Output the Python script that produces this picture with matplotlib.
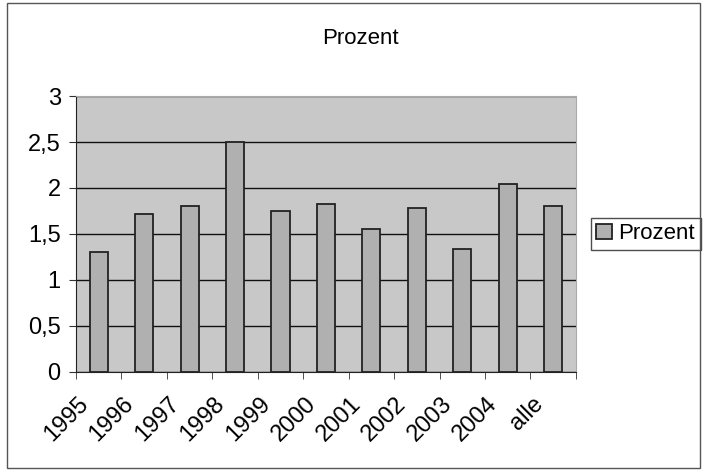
import numpy as np
import matplotlib.pyplot as plt
from matplotlib.patches import Rectangle

plt.rcParams['font.family'] = ['Liberation Sans', 'DejaVu Sans']

jahre = ['1995', '1996', '1997', '1998', '1999', '2000', '2001', '2002', '2003', '2004', 'alle']
prozent = [1.30, 1.72, 1.80, 2.50, 1.75, 1.83, 1.55, 1.78, 1.34, 2.04, 1.80]

fig = plt.figure(figsize=(7.07, 4.72), dpi=100)
ax = fig.add_axes([0.1075, 0.2119, 0.707, 0.5847])

x = np.arange(len(jahre))
ax.set_facecolor('#c8c8c8')
ax.bar(x, prozent, width=0.4, color='#b0b0b0', edgecolor='#222222', linewidth=1.3,
       label='Prozent', zorder=3)

ax.set_xlim(-0.5, len(jahre) - 0.5)
ax.set_ylim(0, 3)
ax.set_yticks(np.arange(0, 3.01, 0.5))
ax.set_yticklabels(['0', '0,5', '1', '1,5', '2', '2,5', '3'], fontsize=17)
ax.yaxis.grid(True, color='#111111', linewidth=1)
ax.set_axisbelow(True)

# Beschriftung sitzt links von der Kategoriemitte (wie in Excel)
ax.set_xticks(x - 0.47)
ax.set_xticklabels(jahre, rotation=45, ha='right', rotation_mode='anchor', fontsize=17)
ax.tick_params(axis='x', which='major', length=0, pad=15)
ax.set_xticks(np.arange(-0.5, len(jahre), 1), minor=True)
ax.tick_params(axis='x', which='minor', length=5, color='#333333')
ax.tick_params(axis='y', length=5, color='#333333', pad=6)

for s in ['top', 'right']:
    ax.spines[s].set_color('#aaaaaa')
for s in ['left', 'bottom']:
    ax.spines[s].set_color('#222222')

fig.text(0.51, 0.918, 'Prozent', ha='center', va='center', fontsize=16)

leg = ax.legend(loc='center left', bbox_to_anchor=(1.03, 0.5), borderaxespad=0,
                fontsize=16, frameon=True, fancybox=False, edgecolor='#222222',
                handlelength=0.7, handleheight=0.7, handletextpad=0.3,
                borderpad=0.25)
leg.get_frame().set_linewidth(1)

fig.patches.append(Rectangle((0.01, 0.008), 0.98, 0.985, transform=fig.transFigure,
                             fill=False, edgecolor='#555555', linewidth=1))

fig.savefig('out.png', dpi=100)
